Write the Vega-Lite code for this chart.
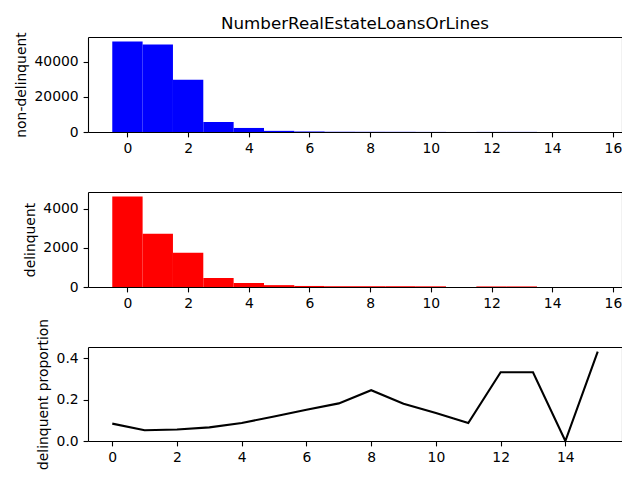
{
  "$schema": "https://vega.github.io/schema/vega-lite/v6.json",
  "padding": {"left": 14, "top": 16, "right": 0, "bottom": 0},
  "background": "white",
  "bounds": "flush",
  "spacing": 60,
  "config": {
    "font": "DejaVu Sans",
    "view": {"stroke": null},
    "axis": {
      "domain": false, "grid": false,
      "tickColor": "black", "tickSize": 4.9, "tickWidth": 1.1,
      "labelColor": "black", "labelFont": "DejaVu Sans", "labelFontSize": 13.9, "labelPadding": 4.9,
      "titleFont": "DejaVu Sans", "titleFontSize": 13.9, "titleFontWeight": "normal", "titleColor": "black", "titlePadding": 5.6,
      "labelFlush": false, "labelOverlap": false
    },
    "title": {"font": "DejaVu Sans", "fontSize": 16.7, "fontWeight": "normal", "color": "black", "anchor": "middle", "offset": -1}
  },
  "datasets": {
    "t": [
      {"n": 0, "lo": -0.5, "hi": 0.5, "nondel": 51430, "del": 4615, "prop": 0.084},
      {"n": 1, "lo": 0.5, "hi": 1.5, "nondel": 49700, "del": 2718, "prop": 0.052},
      {"n": 2, "lo": 1.5, "hi": 2.5, "nondel": 29700, "del": 1744, "prop": 0.056},
      {"n": 3, "lo": 2.5, "hi": 3.5, "nondel": 5700, "del": 460, "prop": 0.066},
      {"n": 4, "lo": 3.5, "hi": 4.5, "nondel": 2300, "del": 205, "prop": 0.087},
      {"n": 5, "lo": 4.5, "hi": 5.5, "nondel": 650, "del": 95, "prop": 0.119},
      {"n": 6, "lo": 5.5, "hi": 6.5, "nondel": 300, "del": 53, "prop": 0.151},
      {"n": 7, "lo": 6.5, "hi": 7.5, "nondel": 140, "del": 40, "prop": 0.182},
      {"n": 8, "lo": 7.5, "hi": 8.5, "nondel": 110, "del": 40, "prop": 0.246},
      {"n": 9, "lo": 8.5, "hi": 9.5, "nondel": 100, "del": 40, "prop": 0.18},
      {"n": 10, "lo": 9.5, "hi": 10.5, "nondel": 60, "del": 35, "prop": 0.135},
      {"n": 11, "lo": 10.5, "hi": 11.5, "nondel": 20, "del": 0, "prop": 0.087},
      {"n": 12, "lo": 11.5, "hi": 12.5, "nondel": 60, "del": 30, "prop": 0.333},
      {"n": 13, "lo": 12.5, "hi": 13.5, "nondel": 60, "del": 30, "prop": 0.333},
      {"n": 14, "lo": 13.5, "hi": 14.5, "nondel": 7, "del": 0, "prop": 0.0},
      {"n": 15, "lo": 14.5, "hi": 15.5, "nondel": 8, "del": 0, "prop": 0.433}
    ]
  },
  "vconcat": [
    {
      "title": "NumberRealEstateLoansOrLines",
      "width": 534, "height": 95,
      "data": {"name": "t"},
      "resolve": {"axis": {"x": "independent", "y": "independent"}},
      "layer": [
        {
          "mark": {"type": "bar", "color": "#0000ff", "orient": "vertical"},
          "encoding": {
            "x": {"field": "lo", "type": "quantitative", "scale": {"domain": [-1.3, 16.3], "nice": false, "zero": false, "padding": 0}, "axis": {"values": [0, 2, 4, 6, 8, 10, 12, 14, 16], "title": null, "domain": true, "domainColor": "black", "domainWidth": 1.1}},
            "x2": {"field": "hi"},
            "y": {"field": "nondel", "type": "quantitative", "scale": {"domain": [0, 54000], "nice": false, "padding": 0}, "axis": {"values": [0, 20000, 40000], "format": "d", "title": "non-delinquent", "domain": true, "domainColor": "black", "domainWidth": 1.1}},
            "y2": {"datum": 0}
          }
        },
        {
          "mark": {"type": "point", "opacity": 0},
          "encoding": {
            "x": {"field": "lo", "type": "quantitative", "axis": {"orient": "top", "labels": false, "ticks": false, "title": null, "domain": true, "domainColor": "black", "domainWidth": 1.1}},
            "y": {"field": "nondel", "type": "quantitative", "axis": {"orient": "right", "labels": false, "ticks": false, "title": null, "domain": true, "domainColor": "black", "domainWidth": 1.1}}
          }
        }
      ]
    },
    {
      "width": 534, "height": 95,
      "data": {"name": "t"},
      "resolve": {"axis": {"x": "independent", "y": "independent"}},
      "layer": [
        {
          "mark": {"type": "bar", "color": "#ff0000", "orient": "vertical"},
          "encoding": {
            "x": {"field": "lo", "type": "quantitative", "scale": {"domain": [-1.3, 16.3], "nice": false, "zero": false, "padding": 0}, "axis": {"values": [0, 2, 4, 6, 8, 10, 12, 14, 16], "title": null, "domain": true, "domainColor": "black", "domainWidth": 1.1}},
            "x2": {"field": "hi"},
            "y": {"field": "del", "type": "quantitative", "scale": {"domain": [0, 4846], "nice": false, "padding": 0}, "axis": {"values": [0, 2000, 4000], "format": "d", "title": "delinquent", "domain": true, "domainColor": "black", "domainWidth": 1.1}},
            "y2": {"datum": 0}
          }
        },
        {
          "mark": {"type": "point", "opacity": 0},
          "encoding": {
            "x": {"field": "lo", "type": "quantitative", "axis": {"orient": "top", "labels": false, "ticks": false, "title": null, "domain": true, "domainColor": "black", "domainWidth": 1.1}},
            "y": {"field": "del", "type": "quantitative", "axis": {"orient": "right", "labels": false, "ticks": false, "title": null, "domain": true, "domainColor": "black", "domainWidth": 1.1}}
          }
        }
      ]
    },
    {
      "width": 534, "height": 94,
      "data": {"name": "t"},
      "resolve": {"axis": {"x": "independent", "y": "independent"}},
      "layer": [
        {
          "mark": {"type": "line", "color": "black", "strokeWidth": 2.1, "clip": false},
          "encoding": {
            "x": {"field": "n", "type": "quantitative", "scale": {"domain": [-0.75, 15.75], "nice": false, "zero": false}, "axis": {"values": [0, 2, 4, 6, 8, 10, 12, 14], "title": null, "domain": true, "domainColor": "black", "domainWidth": 1.1}},
            "y": {"field": "prop", "type": "quantitative", "scale": {"domain": [0, 0.455], "nice": false}, "axis": {"values": [0, 0.2, 0.4], "format": ".1f", "title": "delinquent proportion", "domain": true, "domainColor": "black", "domainWidth": 1.1}}
          }
        },
        {
          "mark": {"type": "point", "opacity": 0},
          "encoding": {
            "x": {"field": "n", "type": "quantitative", "axis": {"orient": "top", "labels": false, "ticks": false, "title": null, "domain": true, "domainColor": "black", "domainWidth": 1.1}},
            "y": {"field": "prop", "type": "quantitative", "axis": {"orient": "right", "labels": false, "ticks": false, "title": null, "domain": true, "domainColor": "black", "domainWidth": 1.1}}
          }
        }
      ]
    }
  ]
}
